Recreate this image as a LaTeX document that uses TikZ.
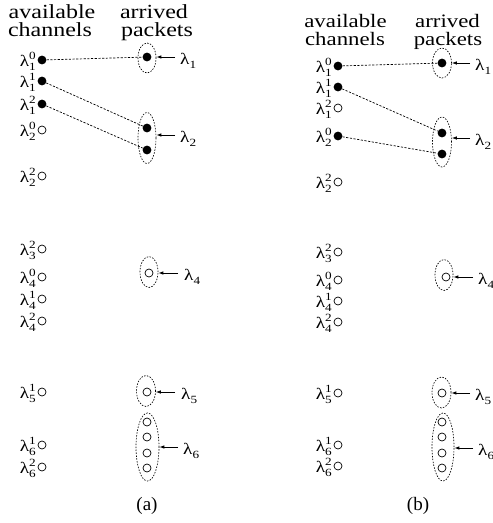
\documentclass[tikz,border=0pt]{standalone}
\usepackage{fontspec}
\setmainfont{Liberation Serif}
\usepackage{graphicx}
\usetikzlibrary{arrows.meta,calc,shapes.geometric}

\newcommand\hs[1]{\scalebox{1.2}[1]{#1}}
\newcommand\smallnum[1]{{\fontsize{11}{11}\selectfont #1}}
\newcommand\lamc[2]{\hs{λ\makebox[0pt][l]{\raisebox{0.42em}{\smallnum{#2}}}\raisebox{-0.28em}{\smallnum{#1}}}}
\newcommand\lamp[1]{\hs{λ\raisebox{-0.28em}{\smallnum{#1}}}}

\tikzset{
  full/.style={circle, fill=black, inner sep=0pt, minimum size=8.8pt},
  hollow/.style={circle, draw=black, line width=0.7pt, inner sep=0pt, minimum size=8pt},
  grp/.style={ellipse, draw=black, line width=0.65pt, dash pattern=on 1.5pt off 1.4pt, inner sep=0pt},
  link/.style={line width=0.7pt, dash pattern=on 2.2pt off 1.5pt},
  arr/.style={line width=0.75pt, -{Latex[length=5pt,width=3.5pt]}},
  lbl/.style={inner sep=0pt, font=\fontsize{16}{16}\selectfont},
  headtop/.style={inner sep=0pt, anchor=base, text depth=0pt, font=\fontsize{20}{20}\selectfont},
  headbot/.style={inner sep=0pt, anchor=base, text height=10pt, font=\fontsize{20}{20}\selectfont},
  headtopb/.style={headtop, font=\fontsize{19}{19}\selectfont},
  headbotb/.style={headbot, font=\fontsize{19}{19}\selectfont},
  captxt/.style={inner sep=0pt, font=\fontsize{19}{19}\selectfont},
}

\begin{document}
\begin{tikzpicture}[x=1pt,y=-1pt]
\useasboundingbox (0,0) rectangle (493,523);

% ---------- panel (a) ----------
\node[headtop] (ha1) at (52,18) {\hs{available}};
\node[headbot] (ha2) at (50,36) {\hs{channels}};
\node[headtop] (ha3) at (154,18) {\hs{arrived}};
\node[headbot] (ha4) at (157,36) {\hs{packets}};

\foreach \n/\y/\s/\sub/\sup in {1/60/full/1/0, 2/81/full/1/1, 3/104/full/1/2, 4/130/hollow/2/0,
  5/176/hollow/2/2, 6/249/hollow/3/2, 7/277/hollow/4/0, 8/299/hollow/4/1, 9/321/hollow/4/2,
  10/392/hollow/5/1, 11/445/hollow/6/1, 12/467/hollow/6/2}{
  \node[\s] (ca\n) at (42,\y) {};
  \node[lbl, anchor=base east] (la\n) at (36,\y+6) {\lamc{\sub}{\sup}};
}

\node[full] (pa1) at (147,57) {};
\node[full] (pa2) at (147,128) {};
\node[full] (pa3) at (147,150) {};
\node[hollow] (pa4) at (149,273) {};
\node[hollow] (pa5) at (147,392) {};
\node[hollow] (pa6) at (147,422) {};
\node[hollow] (pa7) at (147,437) {};
\node[hollow] (pa8) at (147,453) {};
\node[hollow] (pa9) at (147,468) {};

\node[grp, minimum width=18pt, minimum height=30pt] (ga1) at (147,58) {};
\node[grp, minimum width=18pt, minimum height=51pt] (ga2) at (147,138) {};
\node[grp, minimum width=18pt, minimum height=31pt] (ga4) at (149,272) {};
\node[grp, minimum width=19pt, minimum height=31pt] (ga5) at (146,391) {};
\node[grp, minimum width=23pt, minimum height=68pt] (ga6) at (147.5,447) {};

\coordinate (ta1) at (175,57);
\coordinate (ta2) at (175,135);
\coordinate (ta4) at (178,273);
\coordinate (ta5) at (175,392);
\coordinate (ta6) at (178,447);
\node[lbl, anchor=base west] (qa1) at (180,64) {\lamp{1}};
\node[lbl, anchor=base west] (qa2) at (180,142) {\lamp{2}};
\node[lbl, anchor=base west] (qa4) at (184,280) {\lamp{4}};
\node[lbl, anchor=base west] (qa5) at (181,399) {\lamp{5}};
\node[lbl, anchor=base west] (qa6) at (183,454) {\lamp{6}};
\foreach \i in {1,2,4,5,6}{ \draw[arr] (ta\i) -- (ga\i.east |- ta\i); }

\draw[link] (ca1) -- (pa1);
\draw[link] (ca2) -- (pa2);
\draw[link] (ca3) -- (pa3);

\node[captxt] (capa) at (147,506) {(a)};

% ---------- panel (b) ----------
\node[headtopb] (hb1) at (345.5,27) {\hs{available}};
\node[headbotb] (hb2) at (345,45) {\hs{channels}};
\node[headtopb] (hb3) at (447.5,27) {\hs{arrived}};
\node[headbotb] (hb4) at (448,45) {\hs{packets}};

\foreach \n/\y/\s/\sub/\sup in {1/66/full/1/0, 2/87/full/1/1, 3/108/hollow/1/2, 4/136/full/2/0,
  5/182/hollow/2/2, 6/252/hollow/3/2, 7/280/hollow/4/0, 8/301/hollow/4/1, 9/322/hollow/4/2,
  10/393/hollow/5/1, 11/445/hollow/6/1, 12/466/hollow/6/2}{
  \node[\s] (cb\n) at (338,\y) {};
  \node[lbl, anchor=base east] (lb\n) at (332,\y+6) {\lamc{\sub}{\sup}};
}

\node[full] (pb1) at (442,63) {};
\node[full] (pb2) at (442,133) {};
\node[full] (pb3) at (442,154) {};
\node[hollow] (pb4) at (446,277) {};
\node[hollow] (pb5) at (442,393) {};
\node[hollow] (pb6) at (442,422) {};
\node[hollow] (pb7) at (442,437) {};
\node[hollow] (pb8) at (442,453) {};
\node[hollow] (pb9) at (442,468) {};

\node[grp, minimum width=19pt, minimum height=30pt] (gb1) at (442,63) {};
\node[grp, minimum width=19pt, minimum height=50pt] (gb2) at (442,142) {};
\node[grp, minimum width=18pt, minimum height=31pt] (gb4) at (444,275) {};
\node[grp, minimum width=19pt, minimum height=31pt] (gb5) at (441.5,392.5) {};
\node[grp, minimum width=22pt, minimum height=68pt] (gb6) at (443,447) {};

\coordinate (tb1) at (470,63);
\coordinate (tb2) at (470,138);
\coordinate (tb4) at (473,277);
\coordinate (tb5) at (470,393);
\coordinate (tb6) at (473,448);
\node[lbl, anchor=base west] (qb1) at (475,70) {\lamp{1}};
\node[lbl, anchor=base west] (qb2) at (475,145) {\lamp{2}};
\node[lbl, anchor=base west] (qb4) at (478,284) {\lamp{4}};
\node[lbl, anchor=base west] (qb5) at (475,400) {\lamp{5}};
\node[lbl, anchor=base west] (qb6) at (478,455) {\lamp{6}};
\foreach \i in {1,2,4,5,6}{ \draw[arr] (tb\i) -- (gb\i.east |- tb\i); }

\draw[link] (cb1) -- (pb1);
\draw[link] (cb2) -- (pb2);
\draw[link] (cb4) -- (pb3);

\node[captxt] (capb) at (418,506) {(b)};
\end{tikzpicture}
\end{document}
